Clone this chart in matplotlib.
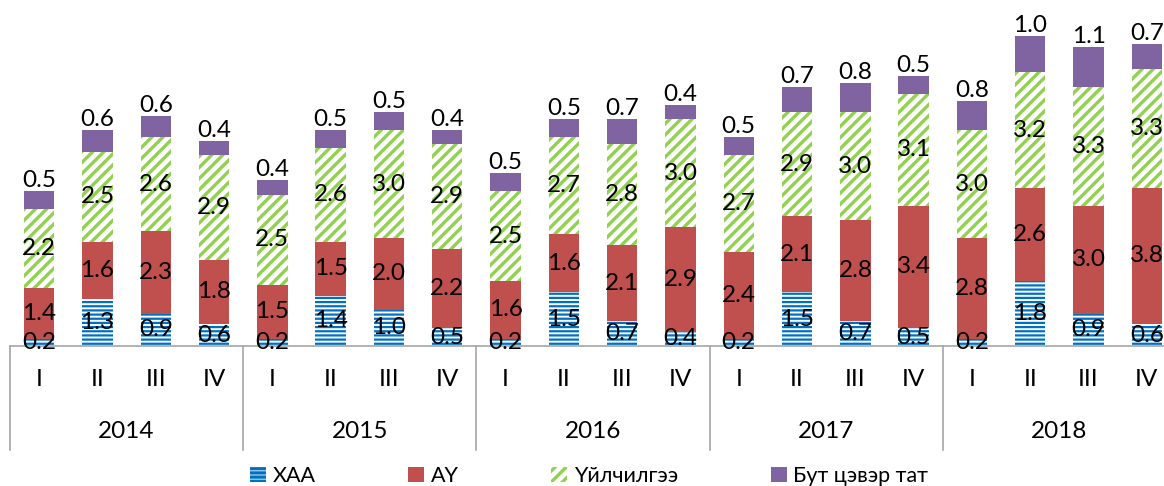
import matplotlib.pyplot as plt
import matplotlib.transforms as mtransforms
import numpy as np

# Өгөгдөл
years = ['2014', '2015', '2016', '2017', '2018']
quarters = ['I', 'II', 'III', 'IV']
series_names = ['ХАА', 'АҮ', 'Үйлчилгээ', 'Бут цэвэр тат']

haa = [0.2, 1.3, 0.9, 0.6, 0.2, 1.4, 1.0, 0.5, 0.2, 1.5, 0.7, 0.4, 0.2, 1.5, 0.7, 0.5, 0.2, 1.8, 0.9, 0.6]
au = [1.4, 1.6, 2.3, 1.8, 1.5, 1.5, 2.0, 2.2, 1.6, 1.6, 2.1, 2.9, 2.4, 2.1, 2.8, 3.4, 2.8, 2.6, 3.0, 3.8]
uilchilgee = [2.2, 2.5, 2.6, 2.9, 2.5, 2.6, 3.0, 2.9, 2.5, 2.7, 2.8, 3.0, 2.7, 2.9, 3.0, 3.1, 3.0, 3.2, 3.3, 3.3]
but_tat = [0.5, 0.6, 0.6, 0.4, 0.4, 0.5, 0.5, 0.4, 0.5, 0.5, 0.7, 0.4, 0.5, 0.7, 0.8, 0.5, 0.8, 1.0, 1.1, 0.7]

plt.rcParams['font.family'] = ['Lato', 'DejaVu Sans']

W, H = 1164, 486
fig = plt.figure(figsize=(W / 100, H / 100), dpi=100)
# тэнхлэг баруун талаараа зургаас бага зэрэг гарна
ax_left, ax_right, ax_bottom, ax_top = 10, 1176, 346, 30
ax = fig.add_axes([ax_left / W, (H - ax_bottom) / H,
                   (ax_right - ax_left) / W, (ax_bottom - ax_top) / H])

x = np.arange(len(haa))
width = 0.52

plt.rcParams['hatch.linewidth'] = 1.6
b1 = ax.bar(x, haa, width, color='white', edgecolor='#0070C0', hatch='----',
            linewidth=0, label=series_names[0])
b2 = ax.bar(x, au, width, bottom=haa, color='#C0504D', linewidth=0,
            label=series_names[1])
bottom3 = np.array(haa) + np.array(au)
plt.rcParams['hatch.linewidth'] = 2.4
b3 = ax.bar(x, uilchilgee, width, bottom=bottom3, color='white',
            edgecolor='#92D050', hatch='///', linewidth=0, label=series_names[2])
bottom4 = bottom3 + np.array(uilchilgee)
b4 = ax.bar(x, but_tat, width, bottom=bottom4, color='#8064A2', linewidth=0,
            label=series_names[3])

fs = 17.5
for vals, bots in [(haa, np.zeros(len(haa))), (au, np.array(haa)), (uilchilgee, bottom3)]:
    for xi, v, b in zip(x, vals, bots):
        ax.text(xi, b + v / 2, f'{v:.1f}', ha='center', va='center',
                fontsize=fs, color='black', zorder=5)
for xi, v, b in zip(x, but_tat, bottom4):
    ax.annotate(f'{v:.1f}', (xi, b + v), xytext=(0, 0), textcoords='offset points',
                ha='center', va='bottom', fontsize=fs, color='black',
                annotation_clip=False, zorder=5)

ax.set_xlim(-0.5, len(haa) - 0.5)
ax.set_ylim(0, (ax_bottom - ax_top) / 36.0)
for s in ax.spines.values():
    s.set_visible(False)
ax.set_xticks([])
ax.set_yticks([])

# Ангилалын тэнхлэг (улирал, он)
axh = ax_bottom - ax_top
trans = mtransforms.blended_transform_factory(ax.transData, ax.transAxes)
ax.plot([-0.5, len(haa) - 0.5], [0, 0], transform=trans, color='#A6A6A6',
        linewidth=1.2, clip_on=False, zorder=1)
for i in range(len(years) + 1):
    xs = i * 4 - 0.5
    ax.plot([xs, xs], [0, -104 / axh], transform=trans, color='#A6A6A6',
            linewidth=1.2, clip_on=False)
for xi in x:
    ax.text(xi, -34 / axh, quarters[xi % 4], transform=trans, ha='center',
            va='center', fontsize=fs)
for i, yr in enumerate(years):
    ax.text(i * 4 + 1.5, -86 / axh, yr, transform=trans, ha='center',
            va='center', fontsize=fs)

fig.legend(handles=[b1, b2, b3, b4], loc='center left',
           bbox_to_anchor=(250 / W, 1 - 476 / H),
           ncol=4, frameon=False, fontsize=15.5, handlelength=0.75,
           handleheight=0.75, handletextpad=0.3, columnspacing=4.3,
           borderpad=0, borderaxespad=0)

fig.savefig('out.png', dpi=100)
